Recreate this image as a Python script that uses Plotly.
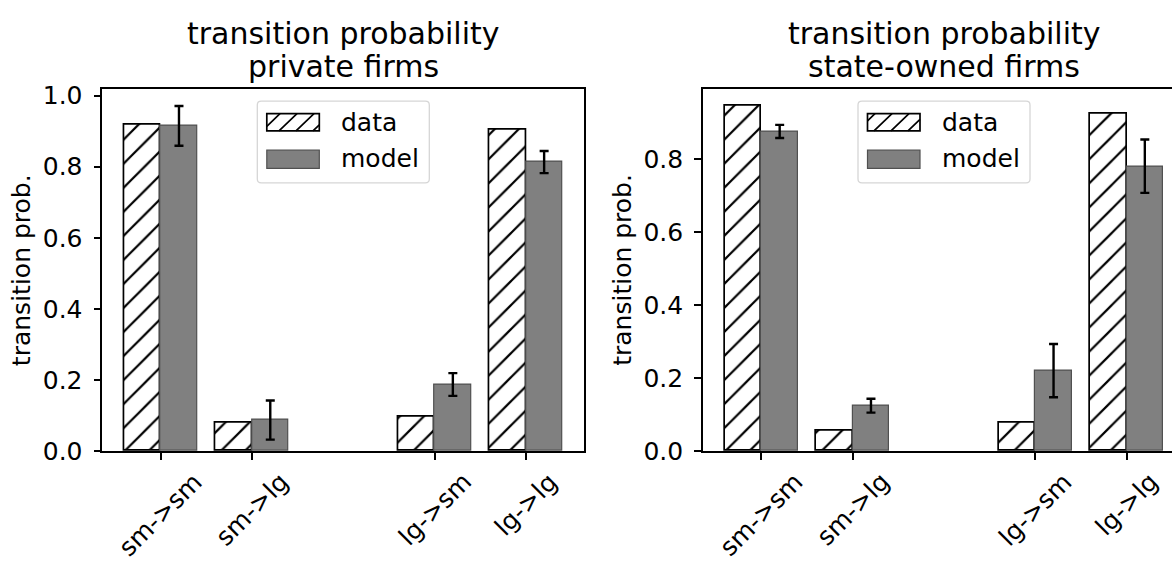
import plotly.graph_objects as go

# ---- values -------------------------------------------------------------
categories = ["sm->sm", "sm->lg", "lg->sm", "lg->lg"]
positions = [0, 1, 3, 4]

private_data = [0.919, 0.081, 0.096, 0.905]
private_model = [0.915, 0.087, 0.187, 0.813]
private_err = [0.056, 0.055, 0.032, 0.031]

state_data = [0.945, 0.055, 0.077, 0.923]
state_model = [0.875, 0.124, 0.220, 0.780]
state_err = [0.018, 0.019, 0.073, 0.073]

panel_titles = [
    ("transition probability", "private firms"),
    ("transition probability", "state-owned firms"),
]
y_label = "transition prob."
legend_labels = ["data", "model"]

# ---- page geometry (pixels) --------------------------------------------
W, H = 1172, 564
AX_TOP, AX_BOTTOM = 85, 462
AX_WIDTH = 482
PANEL_LEFT = [102.3, 703.0]
X_MIN, X_MAX = -0.64, 4.64
PX_PER_UNIT = AX_WIDTH / (X_MAX - X_MIN)
BAR_W = 0.4
HATCH = 17

FONT = "DejaVu Sans"
BASE = 25
TITLE = 30
MODEL_FILL = "rgb(128,128,128)"
MODEL_EDGE = "rgb(80,80,80)"


def px(x):
    return x / W


def py(y):
    return 1 - y / H


fig = go.Figure()
annotations = []
shapes = []

panels = [
    (private_data, private_model, private_err),
    (state_data, state_model, state_err),
]

for i, (data, model, err) in enumerate(panels):
    n = "" if i == 0 else str(i + 1)
    xa, ya = "x" + n, "y" + n

    fig.add_trace(go.Bar(
        x=[p - BAR_W / 2 for p in positions], y=data, width=BAR_W,
        name=legend_labels[0], showlegend=False,
        marker=dict(color="white", line=dict(color="black", width=1.7),
                    pattern=dict(shape="/", fgcolor="black", bgcolor="white",
                                 fgopacity=1, size=HATCH, solidity=0.13)),
        xaxis=xa, yaxis=ya,
    ))
    fig.add_trace(go.Bar(
        x=[p + BAR_W / 2 for p in positions], y=model, width=BAR_W,
        name=legend_labels[1], showlegend=False,
        marker=dict(color=MODEL_FILL, line=dict(color=MODEL_EDGE, width=1.2)),
        error_y=dict(type="data", array=err, visible=True, color="black",
                     thickness=2.4, width=4.5),
        xaxis=xa, yaxis=ya,
    ))

    # axis extents: bars sit on zero, top gets a 5% margin over the tallest mark
    ymax = max(max(data), max(m + e for m, e in zip(model, err))) * 1.05
    left = PANEL_LEFT[i]
    right = min(left + AX_WIDTH, W)
    x_hi = X_MIN + (right - left) / PX_PER_UNIT

    yticks = [t / 10 for t in range(0, 11, 2) if t / 10 <= ymax]
    axis_common = dict(showline=True, linecolor="black", linewidth=1.6,
                       ticks="outside", ticklen=7, tickwidth=1.6, tickcolor="black",
                       showgrid=False, zeroline=False,
                       tickfont=dict(family=FONT, size=BASE, color="black"))
    fig.update_layout(**{
        "xaxis" + n: dict(domain=[px(left), px(right)], range=[X_MIN, x_hi],
                          tickvals=positions, showticklabels=False,
                          mirror=True, anchor=ya, **axis_common),
        "yaxis" + n: dict(domain=[py(AX_BOTTOM), py(AX_TOP)], range=[0, ymax],
                          tickvals=yticks, ticktext=[f"{t:.1f}" for t in yticks],
                          ticklabelstandoff=6, mirror=(i == 0), anchor=xa,
                          **axis_common),
    })

    center = left + AX_WIDTH / 2

    # two-line panel title
    for line, yc in zip(panel_titles[i], (27.5, 61.5)):
        annotations.append(dict(text=line, x=px(center), y=py(yc), xref="paper", yref="paper",
                                xanchor="center", yanchor="middle", showarrow=False,
                                font=dict(family=FONT, size=TITLE, color="black")))

    # y-axis label
    annotations.append(dict(text=y_label, x=px(left - 80), y=py((AX_TOP + AX_BOTTOM) / 2),
                            xref="paper", yref="paper", xanchor="center", yanchor="middle",
                            textangle=-90, showarrow=False,
                            font=dict(family=FONT, size=BASE, color="black")))

    # rotated category labels centred under each tick
    for cat, p in zip(categories, positions):
        annotations.append(dict(text=cat, x=p, y=py(476), xref=xa, yref="paper",
                                xanchor="center", yanchor="top", textangle=-45,
                                showarrow=False,
                                font=dict(family=FONT, size=BASE, color="black")))

    # legend box (upper centre of the axes)
    bx0, bx1 = center - 86, center + 86
    by0, by1 = 98, 183
    r = 4
    path = (f"M{px(bx0 + r)},{py(by0)} L{px(bx1 - r)},{py(by0)} "
            f"Q{px(bx1)},{py(by0)} {px(bx1)},{py(by0 + r)} "
            f"L{px(bx1)},{py(by1 - r)} Q{px(bx1)},{py(by1)} {px(bx1 - r)},{py(by1)} "
            f"L{px(bx0 + r)},{py(by1)} Q{px(bx0)},{py(by1)} {px(bx0)},{py(by1 - r)} "
            f"L{px(bx0)},{py(by0 + r)} Q{px(bx0)},{py(by0)} {px(bx0 + r)},{py(by0)} Z")
    shapes.append(dict(type="path", path=path, xref="paper", yref="paper",
                       fillcolor="rgba(255,255,255,0.8)",
                       line=dict(color="rgb(214,214,214)", width=1.3), layer="above"))

    hx0, hx1 = bx0 + 9.5, bx0 + 62
    # hatched handle
    hy0, hy1 = 111, 129
    segs = []
    k0 = int((hx0 + hy0) // HATCH)
    for k in range(k0, int((hx1 + hy1) // HATCH) + 2):
        cc = k * HATCH
        xs = max(hx0, cc - hy1)
        xe = min(hx1, cc - hy0)
        if xs < xe:
            segs.append(f"M{px(xs)},{py(cc - xs)} L{px(xe)},{py(cc - xe)}")
    shapes.append(dict(type="rect", x0=px(hx0), x1=px(hx1), y0=py(hy1), y1=py(hy0),
                       xref="paper", yref="paper", fillcolor="white",
                       line=dict(width=0), layer="above"))
    shapes.append(dict(type="path", path=" ".join(segs), xref="paper", yref="paper",
                       line=dict(color="black", width=1.7), layer="above"))
    shapes.append(dict(type="rect", x0=px(hx0), x1=px(hx1), y0=py(hy1), y1=py(hy0),
                       xref="paper", yref="paper",
                       line=dict(color="black", width=1.7), layer="above"))
    # solid handle
    shapes.append(dict(type="rect", x0=px(hx0), x1=px(hx1), y0=py(168), y1=py(149),
                       xref="paper", yref="paper", fillcolor=MODEL_FILL,
                       line=dict(color=MODEL_EDGE, width=1.2), layer="above"))
    for lab, yc in zip(legend_labels, (120, 158)):
        annotations.append(dict(text=lab, x=px(bx0 + 82), y=py(yc), xref="paper", yref="paper",
                                xanchor="left", yanchor="middle", showarrow=False,
                                font=dict(family=FONT, size=BASE, color="black")))

fig.update_layout(
    width=W, height=H,
    margin=dict(l=0, r=0, t=0, b=0),
    paper_bgcolor="white", plot_bgcolor="white",
    barmode="overlay", bargap=0,
    showlegend=False,
    annotations=annotations, shapes=shapes,
    font=dict(family=FONT, size=BASE, color="black"),
)

fig.write_html("out.html")
